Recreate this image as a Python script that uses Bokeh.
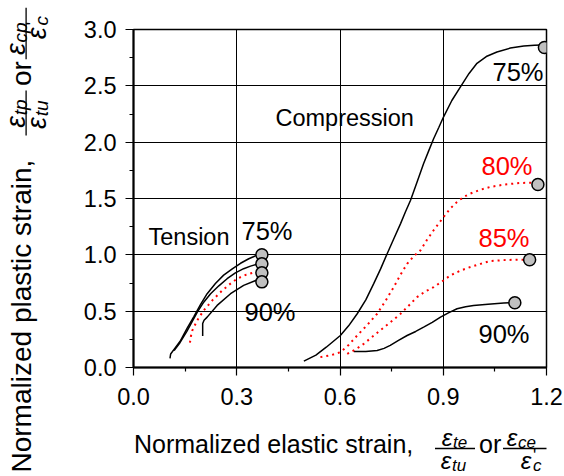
import math
from bokeh.plotting import figure
from bokeh.layouts import row, column
from bokeh.models import Label, Arrow, FixedTicker, PrintfTickFormatter, Range1d
from bokeh.embed import file_html
from bokeh.resources import INLINE

# ---------------- data ----------------
x_ticks = [0.0, 0.3, 0.6, 0.9, 1.2]
x_minor = [0.15, 0.45, 0.75, 1.05]
y_ticks = [0.0, 0.5, 1.0, 1.5, 2.0, 2.5, 3.0]
y_minor = [0.25, 0.75, 1.25, 1.75, 2.25, 2.75]

# Tension curves
t75_x = [0.106, 0.108, 0.120, 0.137, 0.156, 0.175, 0.195, 0.214, 0.238, 0.262, 0.287, 0.311, 0.335, 0.357]
t75_y = [0.08, 0.12, 0.17, 0.24, 0.35, 0.45, 0.56, 0.655, 0.745, 0.82, 0.875, 0.925, 0.965, 0.995]
t80_x = [0.118, 0.135, 0.155, 0.185, 0.204, 0.224, 0.248, 0.272, 0.296, 0.320, 0.340, 0.357]
t80_y = [0.15, 0.22, 0.32, 0.49, 0.58, 0.655, 0.725, 0.788, 0.84, 0.877, 0.90, 0.915]
t85_x = [0.164, 0.167, 0.171, 0.185, 0.204, 0.229, 0.258, 0.280, 0.301, 0.328, 0.355]
t85_y = [0.22, 0.28, 0.33, 0.418, 0.507, 0.596, 0.684, 0.74, 0.788, 0.825, 0.848]
t90_x = [0.201, 0.201, 0.205, 0.214, 0.243, 0.282, 0.320, 0.357]
t90_y = [0.28, 0.39, 0.42, 0.447, 0.551, 0.655, 0.729, 0.775]
t_end_x = [0.373, 0.373, 0.373, 0.373]
t_end_y = [1.0, 0.92, 0.84, 0.76]

# Compression curves
c75_x = [0.495, 0.53, 0.56, 0.601, 0.625, 0.650, 0.675, 0.698, 0.718, 0.737, 0.756, 0.776, 0.790,
         0.805, 0.825, 0.843, 0.858, 0.872, 0.887, 0.901, 0.925, 0.950, 0.975, 0.998, 1.025, 1.056,
         1.095, 1.134, 1.165, 1.186]
c75_y = [0.056, 0.11, 0.18, 0.284, 0.37, 0.477, 0.60, 0.744, 0.875, 1.01, 1.14, 1.277, 1.38,
         1.485, 1.655, 1.81, 1.925, 2.03, 2.13, 2.225, 2.37, 2.49, 2.61, 2.70, 2.76, 2.80,
         2.835, 2.853, 2.86, 2.862]
c80_x = [0.543, 0.575, 0.601, 0.625, 0.650, 0.680, 0.708, 0.732, 0.756, 0.775, 0.795, 0.815, 0.834,
         0.852, 0.872, 0.901, 0.920, 0.940, 0.960, 0.979, 1.005, 1.037, 1.08, 1.124, 1.16]
c80_y = [0.092, 0.11, 0.136, 0.20, 0.284, 0.38, 0.477, 0.59, 0.713, 0.82, 0.92, 0.99, 1.04,
         1.13, 1.218, 1.336, 1.41, 1.469, 1.515, 1.544, 1.575, 1.603, 1.625, 1.638, 1.64]
c85_x = [0.621, 0.645, 0.669, 0.693, 0.717, 0.746, 0.776, 0.800, 0.824, 0.848, 0.872, 0.897, 0.921,
         0.950, 0.979, 1.008, 1.037, 1.075, 1.114, 1.136]
c85_y = [0.121, 0.16, 0.21, 0.27, 0.329, 0.40, 0.477, 0.55, 0.625, 0.675, 0.713, 0.765, 0.818,
         0.86, 0.892, 0.92, 0.945, 0.953, 0.957, 0.957]
c90_x = [0.640, 0.675, 0.708, 0.728, 0.746, 0.770, 0.795, 0.820, 0.843, 0.868, 0.892, 0.915, 0.940,
         0.965, 0.988, 1.03, 1.076, 1.092]
c90_y = [0.142, 0.142, 0.151, 0.17, 0.196, 0.24, 0.284, 0.32, 0.358, 0.40, 0.447, 0.485, 0.521,
         0.54, 0.551, 0.562, 0.572, 0.575]
c_end_x = [1.194, 1.175, 1.151, 1.108]
c_end_y = [2.84, 1.624, 0.957, 0.575]

# ---------------- layout (canvas pixels) ----------------
W, H = 564, 476
YLAB_W = 56            # left strip holding the vertical axis title
MAIN_H = 418           # main figure height; strip below holds the horizontal axis title
L, R, T, B = 133, 546, 29, 367   # plot frame in canvas pixels
XMAX, YMAX = 1.2, 3.0
FONT = "Liberation Sans"


def X(px):
    return (px - L) / (R - L) * XMAX


def Y(py):
    return (B - py) / (B - T) * YMAX


p = figure(width=W - YLAB_W, height=MAIN_H, x_range=Range1d(0, XMAX), y_range=Range1d(0, YMAX),
           min_border_left=L - YLAB_W, min_border_right=W - R, min_border_top=T,
           min_border_bottom=MAIN_H - B, output_backend="svg", toolbar_location=None)
p.background_fill_color = "white"
p.border_fill_color = "white"
p.outline_line_color = "black"
p.outline_line_width = 1.5

p.xaxis.ticker = FixedTicker(ticks=x_ticks, minor_ticks=x_minor)
p.yaxis.ticker = FixedTicker(ticks=y_ticks, minor_ticks=y_minor)
for ax in (p.xaxis, p.yaxis):
    ax.formatter = PrintfTickFormatter(format="%.1f")
    ax.axis_line_color = "black"
    ax.axis_line_width = 2
    ax.major_tick_line_color = "black"
    ax.minor_tick_line_color = "black"
    ax.major_tick_line_width = 1.2
    ax.minor_tick_line_width = 1.2
    ax.major_tick_in = 0
    ax.major_tick_out = 8
    ax.minor_tick_in = 0
    ax.minor_tick_out = 4
    ax.major_label_text_font = FONT
    ax.major_label_text_font_size = "23.5px"
    ax.major_label_text_color = "black"
p.xaxis.major_label_standoff = 12
p.yaxis.major_label_standoff = 9

for g in (p.xgrid, p.ygrid):
    g.grid_line_color = "black"
    g.grid_line_width = 1
    g.grid_line_alpha = 1.0
p.xgrid.ticker = FixedTicker(ticks=x_ticks)
p.ygrid.ticker = FixedTicker(ticks=y_ticks)

# curves
for xs, ys in [(t75_x, t75_y), (t80_x, t80_y), (t90_x, t90_y), (c75_x, c75_y), (c90_x, c90_y)]:
    p.line(xs, ys, line_color="black", line_width=1.5)
for xs, ys in [(t85_x, t85_y), (c80_x, c80_y), (c85_x, c85_y)]:
    p.line(xs, ys, line_color="red", line_width=2, line_dash="2 4")

p.scatter(t_end_x, t_end_y, size=12, fill_color="#c0c0c0", line_color="black", line_width=1.5)
p.scatter(c_end_x, c_end_y, size=12, fill_color="#c0c0c0", line_color="black", line_width=1.5)


def txt(fig, x, y, s, size, angle=0.0, style="normal", color="black", align="left", baseline="middle"):
    fig.add_layout(Label(x=x, y=y, text=s, text_font=FONT, text_font_size=f"{size}px",
                         text_font_style=style, text_color=color, text_align=align,
                         text_baseline=baseline, angle=angle))


def bar(fig, x0, y0, x1, y1):
    fig.add_layout(Arrow(x_start=x0, y_start=y0, x_end=x1, y_end=y1,
                         start=None, end=None, line_color="black", line_width=1.3))


# in-plot annotations (positions given in canvas pixels, converted to data)
for px, py, s, size, color, align in [
    (148, 236, "Tension", 23.5, "black", "left"),
    (241, 230, "75%", 25.5, "black", "left"),
    (244, 311, "90%", 25.5, "black", "left"),
    (275, 117, "Compression", 23.5, "black", "left"),
    (543, 71, "75%", 25.5, "black", "right"),
    (532, 165, "80%", 25.5, "red", "right"),
    (529, 237, "85%", 25.5, "red", "right"),
    (529, 333, "90%", 25.5, "black", "right"),
]:
    txt(p, X(px), Y(py), s, size, color=color, align=align)


def pixel_figure(w, h, x0, x1, y0, border_left=0, border_right=0):
    """A bare figure whose data coordinates equal canvas pixels (y downward)."""
    f = figure(width=w, height=h, x_range=Range1d(x0, x1), y_range=Range1d(y0 + h, y0),
               x_axis_type=None, y_axis_type=None, min_border=0,
               min_border_left=border_left, min_border_right=border_right,
               output_backend="svg", toolbar_location=None)
    f.grid.visible = False
    f.outline_line_color = None
    f.background_fill_color = "white"
    f.border_fill_color = "white"
    return f


# axis titles with fractions (offsets in a horizontal frame relative to the text start)
def compose(fig, ox, oy, horizontal, s_along, s_across, main, sub1n, sub1d, sub2n):
    ang = 0.0 if horizontal else math.pi / 2
    fs = s_along

    def pos(dx, dy):
        if horizontal:
            return ox + dx * s_along, oy + dy * s_across
        return ox + dy * s_across, oy - dx * s_along

    def put(dx, dy, text, size, style="normal", align="left"):
        x, y = pos(dx, dy)
        txt(fig, x, y, text, size * fs, angle=ang, style=style, align=align)

    def line(dx0, dx1, dy):
        x0, y0 = pos(dx0, dy)
        x1, y1 = pos(dx1, dy)
        bar(fig, x0, y0, x1, y1)

    put(0, 0, main, 25)
    # fraction 1
    put(313, -6, "ε", 24, "italic", "center")
    put(319, -1, sub1n, 17, "italic")
    line(301, 341, 5)
    put(312, 17, "ε", 24, "italic", "center")
    put(318, 22, sub1d, 17, "italic")
    # or
    put(345, 0, "or", 25)
    # fraction 2
    put(378, -6, "ε", 24, "italic", "center")
    put(384, -1, sub2n, 17, "italic")
    line(369, 415, 5)
    put(392, 17, "ε", 24, "italic", "center")
    put(399, 12, "'", 17, "normal")
    put(399, 22, "c", 17, "italic")


# strip below the plot: its frame is aligned with the plot frame (canvas x 133..546)
xlab = pixel_figure(W - YLAB_W, H - MAIN_H, L, R, MAIN_H,
                    border_left=L - YLAB_W, border_right=W - R)
compose(xlab, 133.5, 443, True, 1.0, 1.0, "Normalized elastic strain,", "te", "tu", "ce")

# strip left of the plot (canvas x 0..56)
ylab = pixel_figure(YLAB_W, H, 0, YLAB_W, 0)
compose(ylab, 21, 472, False, 1.12, 0.92, "Normalized plastic strain,", "tp", "tu", "cp")

layout = row(ylab, column(p, xlab, spacing=0), spacing=0)
open("out.html", "w").write(file_html(layout, INLINE))
